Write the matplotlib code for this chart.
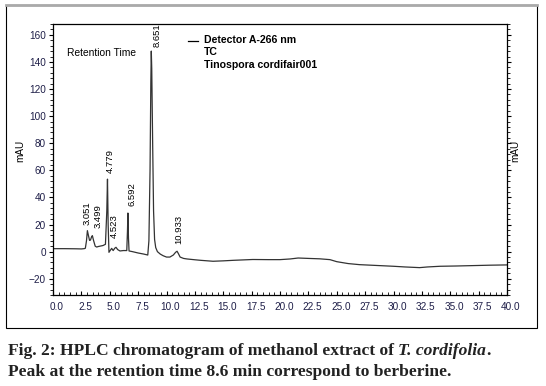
import matplotlib
matplotlib.use('Agg')
import matplotlib.pyplot as plt
import matplotlib.ticker as mtick
import matplotlib.transforms as mtrans
from matplotlib.patches import Rectangle
from matplotlib.lines import Line2D

rt = [0.0, 1.0, 2.0, 2.5, 2.75, 2.85, 2.95, 3.03, 3.12, 3.22, 3.30, 3.40, 3.47,
      3.58, 3.72, 3.85, 4.0, 4.4, 4.62, 4.74, 4.80, 4.86, 4.93, 5.05, 5.17, 5.3,
      5.45, 5.55, 5.7, 5.9, 6.2, 6.5, 6.56, 6.60, 6.65, 6.70, 7.0, 7.5, 8.0, 8.35,
      8.45, 8.55, 8.62, 8.66, 8.70, 8.78, 8.86, 8.95, 9.05, 9.2, 9.45, 9.7, 10.0,
      10.3, 10.6, 10.8, 10.93, 11.05, 11.2, 11.5, 11.8, 12.5, 13.0, 14.1, 15.0,
      15.9, 17.6, 19.0, 20.0, 20.9, 21.6, 22.5, 23.5, 24.4, 25.0, 26.0, 27.0,
      28.5, 30.0, 31.0, 32.3, 33.0, 34.1, 35.5, 37.0, 38.5, 40.0]
mau = [2.2, 2.2, 2.1, 2.0, 2.2, 2.5, 8.0, 15.5, 12.0, 8.3, 8.5, 11.0, 11.8,
       8.0, 4.0, 3.4, 3.8, 4.5, 5.4, 30.0, 53.5, 20.0, -0.5, 1.0, 2.4, 0.8,
       2.6, 3.2, 1.5, 0.5, 0.8, 0.8, 15.0, 28.5, 10.0, 0.5, 0.0, -1.0, -1.8, -2.5,
       8.0, 60.0, 125.0, 148.0, 135.0, 80.0, 30.0, 9.0, 3.0, 0.0, -1.8, -3.0, -4.0,
       -4.0, -2.5, -0.5, 0.3, -1.5, -4.0, -5.0, -5.4, -6.0, -6.4, -7.1, -6.8,
       -6.4, -5.8, -5.9, -5.9, -5.4, -4.7, -5.0, -5.3, -5.9, -7.4, -8.8, -9.6,
       -10.2, -10.8, -11.3, -11.8, -11.3, -10.8, -10.6, -10.3, -10.0, -9.8]

# etiquetas de picos
picos_rt = [3.051, 3.499, 4.523, 4.779, 6.592, 8.651, 10.933]
picos_y = [20, 17.5, 10, 58, 34, 151, 6]
picos_dx = [-1, 5, 10, 3, 4, 6, 2]  # desplazamiento en pixeles

leyenda = ['Detector A-266 nm', 'TC', 'Tinospora cordifair001']

plt.rcParams['font.family'] = ['Liberation Sans', 'DejaVu Sans']

fig = plt.figure(figsize=(5.46, 3.86), dpi=100)
W, H = 546, 386

# marco exterior
fig.patches.append(Rectangle((6 / W, 1 - 328 / H), 531 / W, 323 / H,
                             transform=fig.transFigure, fill=False,
                             edgecolor='black', linewidth=0.8))
fig.lines.append(Line2D([6 / W, 537 / W], [1 - 5 / H, 1 - 5 / H],
                        transform=fig.transFigure, color='#aaaaaa', linewidth=2))

ax = fig.add_axes([53 / W, 1 - 295 / H, 454 / W, 271 / H])
ax.plot(rt, mau, color='#333333', linewidth=0.9)
ax.set_xlim(0, 40)
ax.set_ylim(-32, 168)

ax.xaxis.set_major_locator(mtick.MultipleLocator(2.5))
ax.xaxis.set_minor_locator(mtick.AutoMinorLocator(5))
ax.yaxis.set_major_locator(mtick.MultipleLocator(20))
ax.yaxis.set_minor_locator(mtick.AutoMinorLocator(5))
ax.xaxis.set_major_formatter(mtick.FormatStrFormatter('%.1f'))
ax.set_yticks([-20, 0, 20, 40, 60, 80, 100, 120, 140, 160])

col_tick = '#1e1e48'
ax.tick_params(axis='x', which='both', direction='in', labelsize=7.2,
               labelcolor=col_tick, pad=5)
ax.tick_params(axis='x', which='major', length=3)
ax.tick_params(axis='x', which='minor', length=2)
ax.tick_params(axis='y', which='both', direction='out', right=True,
               labelsize=7.2, labelcolor=col_tick, pad=2)
ax.tick_params(axis='y', which='major', length=3)
ax.tick_params(axis='y', which='minor', length=2)
for s in ax.spines.values():
    s.set_linewidth(0.9)

# las etiquetas del eje x estan corridas a la derecha en el original
desplaza = mtrans.ScaledTranslation(4 / 100, 0, fig.dpi_scale_trans)
for lab in ax.get_xticklabels():
    lab.set_transform(lab.get_transform() + desplaza)

fig.text(20 / W, 1 - 151 / H, 'mAU', rotation=90, fontsize=7.2,
         ha='center', va='center')
fig.text(515 / W, 1 - 151 / H, 'mAU', rotation=90, fontsize=7.2,
         ha='center', va='center')

ax.text(67 / W, 1 - 53 / H, 'Retention Time', transform=fig.transFigure,
        fontsize=7.4, va='center', ha='left')

for r, y, dx in zip(picos_rt, picos_y, picos_dx):
    ax.annotate(f'{r:.3f}', xy=(r, y), xytext=(dx, 0), textcoords='offset pixels',
                rotation=90, ha='center', va='bottom', fontsize=6.8)

# leyenda
fig.lines.append(Line2D([188 / W, 198 / W], [1 - 41 / H, 1 - 41 / H],
                        transform=fig.transFigure, color='black', linewidth=0.9))
for i, t in enumerate(leyenda):
    fig.text(204 / W, 1 - (40 + 12.3 * i) / H, t, fontsize=7.6,
             fontweight='bold', va='center', ha='left')

# pie de figura
cap = dict(fontsize=12.6, family='Liberation Serif', fontweight='bold', color='#222222')
t1 = fig.text(8 / W, 1 - 355 / H, 'Fig. 2: HPLC chromatogram of methanol extract of ',
              va='baseline', **cap)
fig.canvas.draw()
bb = t1.get_window_extent()
t2 = fig.text(bb.x1 / W, 1 - 355 / H, 'T. cordifolia', va='baseline', style='italic', **cap)
fig.canvas.draw()
bb2 = t2.get_window_extent()
fig.text(bb2.x1 / W, 1 - 355 / H, '.', va='baseline', **cap)
fig.text(8 / W, 1 - 376 / H, 'Peak at the retention time 8.6 min correspond to berberine.',
         va='baseline', **cap)

plt.savefig('out.png', dpi=100)
